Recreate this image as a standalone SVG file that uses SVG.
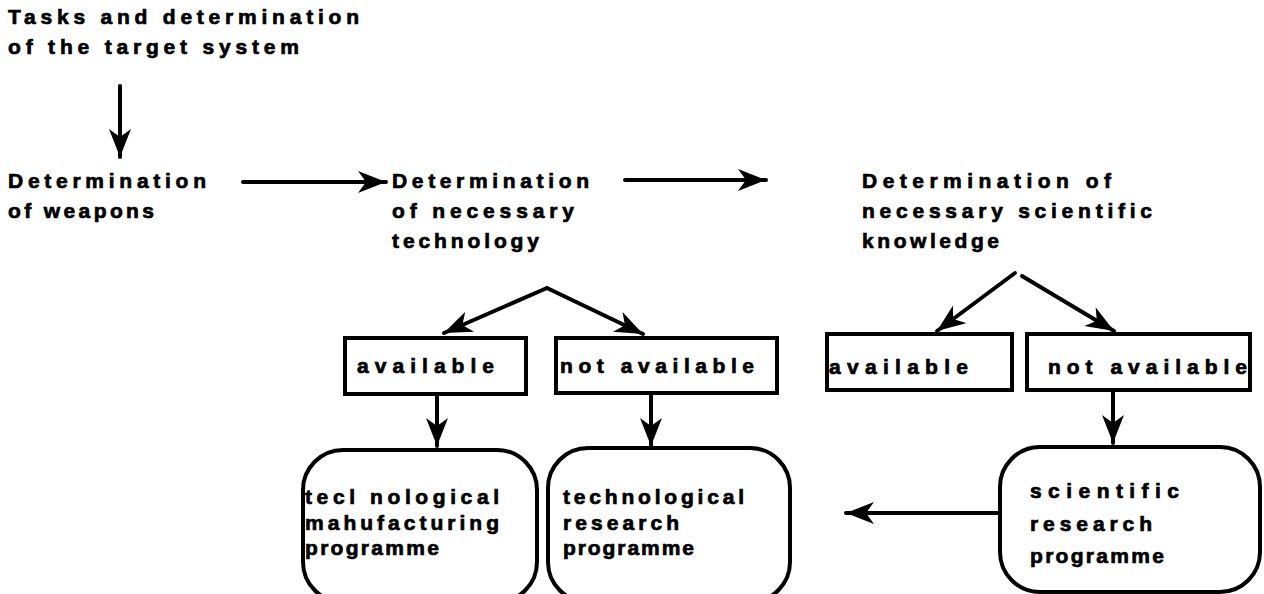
<svg xmlns="http://www.w3.org/2000/svg" width="1264" height="594" viewBox="0 0 1264 594">
<style>
text{font-family:"Liberation Sans",Arial,sans-serif;font-weight:bold;font-size:21px;fill:#000;stroke:#000;stroke-width:0.7;letter-spacing:1px}
.box{fill:none;stroke:#000;stroke-width:4}
.c{fill:none;stroke:#000;stroke-width:4;stroke-linecap:round}
</style>
<defs>
<marker id="ah" markerUnits="userSpaceOnUse" markerWidth="30" markerHeight="24" viewBox="0 0 30 24" refX="28" refY="12" orient="auto">
<path d="M0,1 L28,12 L0,23 L8,12 Z" fill="#000"/>
</marker>
</defs>
<rect width="1264" height="594" fill="#fff"/>
<g id="n-tasks">
<text x="8" y="24" textLength="352" lengthAdjust="spacing">Tasks and determination</text>
<text x="8" y="54" textLength="292" lengthAdjust="spacing">of the target system</text>
</g>
<g id="n-weapons">
<text x="8" y="188" textLength="199" lengthAdjust="spacing">Determination</text>
<text x="8" y="218" textLength="147" lengthAdjust="spacing">of weapons</text>
</g>
<g id="n-tech">
<text x="392" y="188" textLength="198" lengthAdjust="spacing">Determination</text>
<text x="392" y="218" textLength="183" lengthAdjust="spacing">of necessary</text>
<text x="392" y="248" textLength="148" lengthAdjust="spacing">technology</text>
</g>
<g id="n-sci">
<text x="862" y="188" textLength="250" lengthAdjust="spacing">Determination of</text>
<text x="862" y="218" textLength="291" lengthAdjust="spacing">necessary scientific</text>
<text x="862" y="248" textLength="138" lengthAdjust="spacing">knowledge</text>
</g>
<g id="n-avail1">
<rect class="box" x="345" y="338" width="181" height="56"/>
<text x="357" y="373" textLength="138" lengthAdjust="spacing">available</text>
</g>
<g id="n-notavail1">
<rect class="box" x="556" y="338" width="221" height="55"/>
<text x="560" y="373" textLength="195" lengthAdjust="spacing">not available</text>
</g>
<g id="n-avail2">
<rect class="box" x="827" y="334" width="185" height="56"/>
<text x="829" y="374" textLength="140" lengthAdjust="spacing">available</text>
</g>
<g id="n-notavail2">
<rect class="box" x="1027" y="334" width="223" height="56"/>
<text x="1048" y="374" textLength="200" lengthAdjust="spacing">not available</text>
</g>
<g id="n-manuf">
<rect class="box" x="303" y="450" width="234" height="152" rx="40"/>
<text x="305" y="504" textLength="195" lengthAdjust="spacing">tecl nological</text>
<text x="305" y="530" textLength="195" lengthAdjust="spacing">mahufacturing</text>
<text x="305" y="555" textLength="135" lengthAdjust="spacing">programme</text>
</g>
<g id="n-techres">
<rect class="box" x="548" y="448" width="242" height="154" rx="40"/>
<text x="563" y="504" textLength="182" lengthAdjust="spacing">technological</text>
<text x="563" y="530" textLength="117" lengthAdjust="spacing">research</text>
<text x="563" y="555" textLength="132" lengthAdjust="spacing">programme</text>
</g>
<g id="n-scires">
<rect class="box" x="1000" y="447" width="260" height="145" rx="40"/>
<text x="1030" y="498" textLength="150" lengthAdjust="spacing">scientific</text>
<text x="1030" y="531" textLength="123" lengthAdjust="spacing">research</text>
<text x="1030" y="563" textLength="135" lengthAdjust="spacing">programme</text>
</g>
<g id="connectors">
<path class="c" d="M120,86 L120,157" marker-end="url(#ah)"/>
<path class="c" d="M243,182 L386,182" marker-end="url(#ah)"/>
<path class="c" d="M625,180 L766,180" marker-end="url(#ah)"/>
<path class="c" d="M547,288 L444,333" marker-end="url(#ah)"/>
<path class="c" d="M547,288 L643,334" marker-end="url(#ah)"/>
<path class="c" d="M1015,273 L937,331" marker-end="url(#ah)"/>
<path class="c" d="M1022,276 L1114,331" marker-end="url(#ah)"/>
<path class="c" d="M437,395 L437,446" marker-end="url(#ah)"/>
<path class="c" d="M651,394 L651,446" marker-end="url(#ah)"/>
<path class="c" d="M1113,391 L1113,443" marker-end="url(#ah)"/>
<path class="c" d="M998,513 L846,513" marker-end="url(#ah)"/>
</g>
</svg>
